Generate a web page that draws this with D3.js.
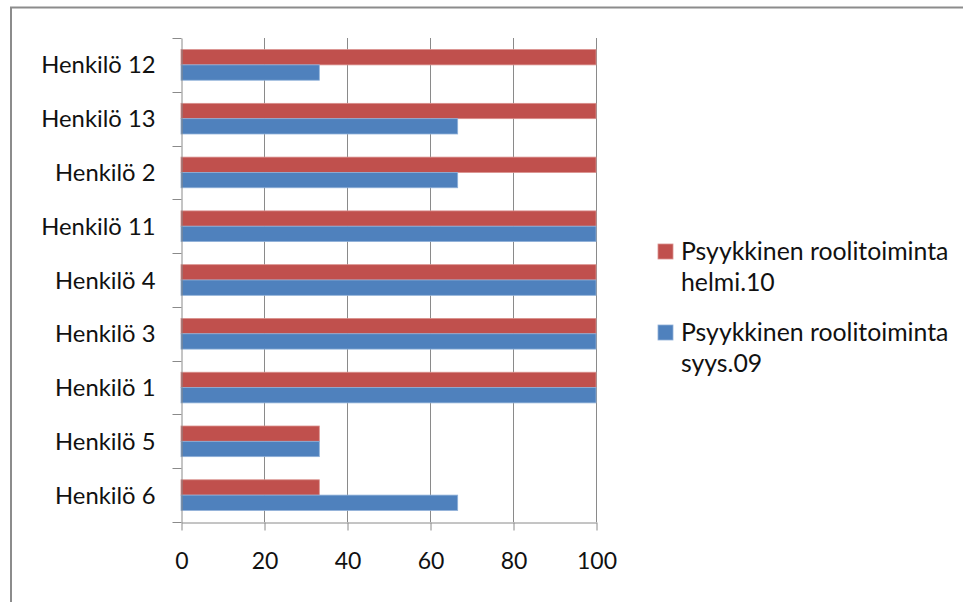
<!DOCTYPE html>
<html>
<head>
<meta charset="utf-8">
<script src="https://cdn.jsdelivr.net/npm/d3@7"></script>
<style>
  html, body { margin: 0; padding: 0; background: #fff; }
  svg { display: block; }
  text { font-family: Lato, "Open Sans", sans-serif; fill: #111; }
</style>
</head>
<body>
<svg id="chart" width="963" height="602"></svg>
<script>
// Henkilöt ylhäältä alas
const categories = ["Henkilö 12", "Henkilö 13", "Henkilö 2", "Henkilö 11", "Henkilö 4",
                    "Henkilö 3", "Henkilö 1", "Henkilö 5", "Henkilö 6"];
const helmi10 = [100, 100, 100, 100, 100, 100, 100, 33.33, 33.33];
const syys09  = [33.33, 66.67, 66.67, 100, 100, 100, 100, 33.33, 66.67];
const seriesLegend = [["Psyykkinen roolitoiminta", "helmi.10"], ["Psyykkinen roolitoiminta", "syys.09"]];
const xTicks = [0, 20, 40, 60, 80, 100];

const colors = ["#C0504D", "#4F81BD"];
const strokes = ["#d9908d", "#8fb0d8"];

const svg = d3.select("#chart");

// chart frame
svg.append("rect")
  .attr("x", 11).attr("y", 7.5)
  .attr("width", 980).attr("height", 620)
  .attr("fill", "none").attr("stroke", "#8c8c8c").attr("stroke-width", 2);

const plot = { left: 181, right: 596, top: 38, bottom: 522 };

const x = d3.scaleLinear().domain([0, 100]).range([plot.left, plot.right]);
const y = d3.scaleBand().domain(categories).range([plot.top, plot.bottom])
  .paddingInner(0.43).paddingOuter(0.215);
const ySeries = d3.scaleBand().domain([0, 1]).range([0, y.bandwidth()]);

const g = svg.append("g");

// vertical gridlines
g.selectAll("line.grid").data(xTicks.slice(1)).join("line")
  .attr("class", "grid")
  .attr("x1", d => x(d) + 0.5).attr("x2", d => x(d) + 0.5)
  .attr("y1", plot.top).attr("y2", plot.bottom)
  .attr("stroke", "#8a8a8a").attr("stroke-width", 1);

// bars
const values = [helmi10, syys09];
values.forEach((vals, si) => {
  g.selectAll("rect.s" + si).data(categories).join("rect")
    .attr("class", "s" + si)
    .attr("x", x(0))
    .attr("y", d => y(d) + ySeries(si))
    .attr("width", (d, i) => x(vals[i]) - x(0))
    .attr("height", ySeries.bandwidth())
    .attr("fill", colors[si])
    .attr("stroke", strokes[si]).attr("stroke-width", 0.8);
});

// y axis (ticks at category boundaries)
const yAxis = svg.append("g").attr("transform", `translate(${plot.left + 0.5},0)`)
  .call(d3.axisLeft(y).tickSize(0).tickPadding(26));
yAxis.select(".domain").attr("stroke", "#8a8a8a");
yAxis.selectAll("text").style("font-size", "23.8px").attr("fill", "#111").attr("dy", "0.36em");
const bounds = d3.range(categories.length + 1).map(i => plot.top + i * y.step());
yAxis.selectAll("line.bound").data(bounds).join("line")
  .attr("class", "bound")
  .attr("x1", -9).attr("x2", 0)
  .attr("y1", d => Math.round(d) + 0.5).attr("y2", d => Math.round(d) + 0.5)
  .attr("stroke", "#8a8a8a");

// x axis
const xAxis = svg.append("g").attr("transform", `translate(0.5,${plot.bottom + 0.5})`)
  .call(d3.axisBottom(x).tickValues(xTicks).tickSize(8).tickSizeOuter(0).tickPadding(22));
xAxis.select(".domain").attr("stroke", "#8a8a8a");
xAxis.selectAll("line").attr("stroke", "#8a8a8a");
xAxis.selectAll("text").style("font-size", "23px").attr("fill", "#111");

// legend
const legend = svg.append("g");
const legendY = [244, 325];
seriesLegend.forEach((lines, i) => {
  legend.append("rect")
    .attr("x", 658).attr("y", legendY[i])
    .attr("width", 15).attr("height", 15)
    .attr("fill", colors[i]).attr("stroke", strokes[i]).attr("stroke-width", 0.8);
  const t = legend.append("text").attr("x", 681).attr("y", legendY[i] + 16)
    .style("font-size", "24.8px");
  lines.forEach((ln, k) => {
    t.append("tspan").attr("x", 681).attr("dy", k === 0 ? 0 : 31).text(ln);
  });
});
</script>
</body>
</html>
